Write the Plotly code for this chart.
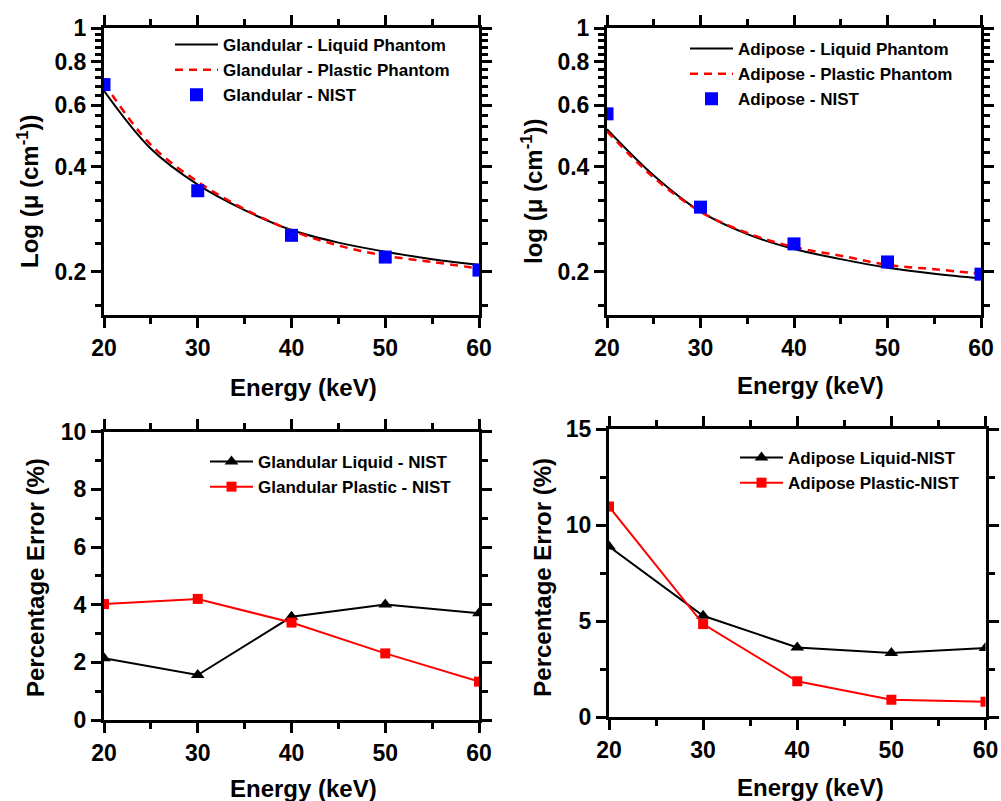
import math
import plotly.graph_objects as go

# ---------------- data ----------------
energy_curve = [20, 25, 30, 35, 40, 45, 50, 55, 60]
energy = [20, 30, 40, 50, 60]

gland_liquid = [0.66, 0.45, 0.355, 0.300, 0.263, 0.242, 0.228, 0.217, 0.209]
gland_plastic = [0.695, 0.462, 0.362, 0.302, 0.262, 0.2375, 0.222, 0.213, 0.204]
gland_nist = [0.688, 0.341, 0.254, 0.220, 0.2018]

adip_liquid = [0.512, 0.377, 0.297, 0.256, 0.232, 0.217, 0.205, 0.197, 0.191]
adip_plastic = [0.505, 0.372, 0.297, 0.258, 0.235, 0.222, 0.209, 0.203, 0.197]
adip_nist = [0.567, 0.306, 0.240, 0.213, 0.1965]

gland_liq_err = [2.14, 1.56, 3.58, 4.01, 3.70]
gland_pla_err = [4.02, 4.20, 3.38, 2.31, 1.33]
adip_liq_err = [8.88, 5.27, 3.62, 3.33, 3.59]
adip_pla_err = [10.96, 4.84, 1.86, 0.90, 0.80]

x_ticks = [20, 30, 40, 50, 60]
x_minor = [25, 35, 45, 55]
log_ticks = [0.2, 0.4, 0.6, 0.8, 1]
log_tick_text = ["0.2", "0.4", "0.6", "0.8", "1"]
log_minor = [0.16, 0.24, 0.28, 0.32, 0.36, 0.44, 0.48, 0.52, 0.56,
             0.64, 0.68, 0.72, 0.76, 0.84, 0.88, 0.92, 0.96]
gl_err_ticks = [0, 2, 4, 6, 8, 10]
gl_err_minor = [1, 3, 5, 7, 9]
ad_err_ticks = [0, 5, 10, 15]
ad_err_minor = [2.5, 7.5, 12.5]

# ---------------- layout helpers ----------------
W, H = 1001, 801
FONT = "Liberation Sans"
BLUE = "#0000FF"
RED = "#FF0000"


def px_x(p):
    return p / W


def px_y(p):
    return 1 - p / H


# panel boxes in pixels: (left, right, top, bottom)
panels = {
    1: (104, 479, 28, 315),
    2: (607, 981, 28, 315),
    3: (104, 479, 431.7, 720),
    4: (609, 985.5, 429, 717),
}

fig = go.Figure()

# ---- top-left ----
fig.add_trace(go.Scatter(x=energy_curve, y=gland_liquid, mode="lines",
                         line=dict(color="black", width=2, shape="spline"),
                         name="Glandular - Liquid Phantom", xaxis="x", yaxis="y", legend="legend"))
fig.add_trace(go.Scatter(x=energy_curve, y=gland_plastic, mode="lines",
                         line=dict(color=RED, width=2.5, dash="8px,6px", shape="spline"),
                         name="Glandular - Plastic Phantom", xaxis="x", yaxis="y", legend="legend"))
fig.add_trace(go.Scatter(x=energy, y=gland_nist, mode="markers",
                         marker=dict(color=BLUE, symbol="square", size=13),
                         name="Glandular - NIST", xaxis="x", yaxis="y", legend="legend"))

# ---- top-right ----
fig.add_trace(go.Scatter(x=energy_curve, y=adip_liquid, mode="lines",
                         line=dict(color="black", width=2, shape="spline"),
                         name="Adipose - Liquid Phantom", xaxis="x2", yaxis="y2", legend="legend2"))
fig.add_trace(go.Scatter(x=energy_curve, y=adip_plastic, mode="lines",
                         line=dict(color=RED, width=2.5, dash="8px,6px", shape="spline"),
                         name="Adipose - Plastic Phantom", xaxis="x2", yaxis="y2", legend="legend2"))
fig.add_trace(go.Scatter(x=energy, y=adip_nist, mode="markers",
                         marker=dict(color=BLUE, symbol="square", size=13),
                         name="Adipose - NIST", xaxis="x2", yaxis="y2", legend="legend2"))

# ---- bottom-left ----
fig.add_trace(go.Scatter(x=energy, y=gland_liq_err, mode="lines+markers",
                         line=dict(color="black", width=2),
                         marker=dict(color="black", symbol="triangle-up", size=12),
                         name="Glandular Liquid - NIST", xaxis="x3", yaxis="y3", legend="legend3"))
fig.add_trace(go.Scatter(x=energy, y=gland_pla_err, mode="lines+markers",
                         line=dict(color=RED, width=2),
                         marker=dict(color=RED, symbol="square", size=10),
                         name="Glandular Plastic - NIST", xaxis="x3", yaxis="y3", legend="legend3"))

# ---- bottom-right ----
fig.add_trace(go.Scatter(x=energy, y=adip_liq_err, mode="lines+markers",
                         line=dict(color="black", width=2),
                         marker=dict(color="black", symbol="triangle-up", size=12),
                         name="Adipose Liquid-NIST", xaxis="x4", yaxis="y4", legend="legend4"))
fig.add_trace(go.Scatter(x=energy, y=adip_pla_err, mode="lines+markers",
                         line=dict(color=RED, width=2),
                         marker=dict(color=RED, symbol="square", size=10),
                         name="Adipose Plastic-NIST", xaxis="x4", yaxis="y4", legend="legend4"))

tickfont = dict(family=FONT, size=23, color="black", weight="bold")

layout = dict(
    template="none",
    width=W, height=H, autosize=False,
    margin=dict(l=0, r=0, t=0, b=0, autoexpand=False),
    paper_bgcolor="white", plot_bgcolor="white",
    font=dict(family=FONT, color="black"),
)

yspecs = {
    1: dict(type="log", range=[math.log10(0.15), 0], tickvals=log_ticks, ticktext=log_tick_text,
            minor_vals=log_minor),
    2: dict(type="log", range=[math.log10(0.15), 0], tickvals=log_ticks, ticktext=log_tick_text,
            minor_vals=log_minor),
    3: dict(type="linear", range=[0, 10], tickvals=gl_err_ticks, ticktext=[str(v) for v in gl_err_ticks],
            minor_vals=gl_err_minor),
    4: dict(type="linear", range=[0, 15], tickvals=ad_err_ticks, ticktext=[str(v) for v in ad_err_ticks],
            minor_vals=ad_err_minor),
}

for i, (l, r, t, b) in panels.items():
    xd = [px_x(l), px_x(r)]
    yd = [px_y(b), px_y(t)]
    ys = yspecs[i]
    sx = "" if i == 1 else str(i)
    layout[f"xaxis{sx}"] = dict(
        range=[20, 60], domain=xd, anchor=f"y{sx}", side="bottom",
        showgrid=False, zeroline=False, automargin=False,
        showline=True, linecolor="black", linewidth=3, mirror="ticks",
        tickmode="array", tickvals=x_ticks, ticks="outside",
        ticklen=10, tickwidth=3, tickcolor="black", tickfont=tickfont,
        minor=dict(tickmode="array", tickvals=x_minor, ticks="outside", ticklen=6,
                   tickwidth=3, tickcolor="black", showgrid=False))
    layout[f"yaxis{sx}"] = dict(
        type=ys["type"], range=ys["range"], domain=yd, anchor=f"x{sx}", side="left",
        showgrid=False, zeroline=False, automargin=False,
        showline=True, linecolor="black", linewidth=3, mirror="ticks",
        tickmode="array", tickvals=ys["tickvals"], ticktext=ys["ticktext"], ticks="outside",
        ticklen=10, tickwidth=3, tickcolor="black", tickfont=tickfont,
        minor=dict(tickmode="array", tickvals=ys["minor_vals"], ticks="outside", ticklen=6,
                   tickwidth=3, tickcolor="black", showgrid=False))

# legends
leg_font = dict(family=FONT, size=17, color="black", weight="bold")
legend_pos = {
    "legend": (170, 27),
    "legend2": (685, 31),
    "legend3": (205, 444),
    "legend4": (735, 440),
}
for name, (lx, ly) in legend_pos.items():
    layout[name] = dict(x=px_x(lx), y=px_y(ly), xanchor="left", yanchor="top",
                        bgcolor="rgba(0,0,0,0)", borderwidth=0, font=leg_font,
                        itemwidth=43, tracegroupgap=0)

fig.update_layout(**layout)

# axis titles as annotations
title_font = dict(family=FONT, size=24, color="black", weight="bold")
titles = [
    ("Energy (keV)", 303, 387, 0),
    ("Energy (keV)", 810, 385, 0),
    ("Energy (keV)", 303, 788, 0),
    ("Energy (keV)", 810, 787, 0),
    ("Log (μ (cm<sup>-1</sup>))", 28, 191, -90),
    ("log (μ (cm<sup>-1</sup>))", 532, 191, -90),
    ("Percentage Error (%)", 35, 578, -90),
    ("Percentage Error (%)", 541.7, 577, -90),
]
for text, x, y, ang in titles:
    fig.add_annotation(text=text, x=px_x(x), y=px_y(y), xref="paper", yref="paper",
                       xanchor="center", yanchor="middle", showarrow=False,
                       textangle=ang, font=title_font)

fig.write_html("out.html", config={"displayModeBar": False},
               post_script="document.body.style.margin='0';")
